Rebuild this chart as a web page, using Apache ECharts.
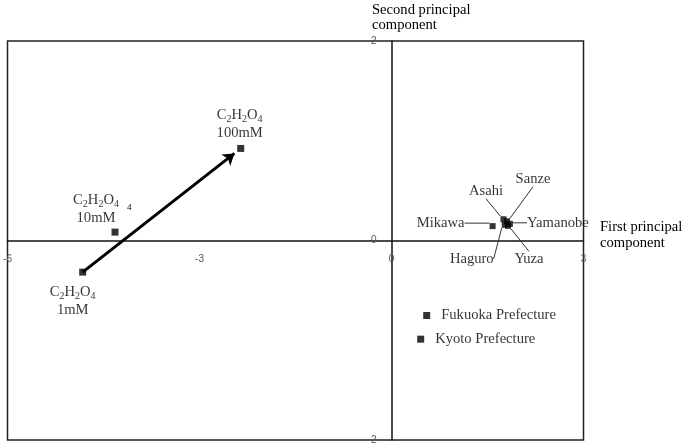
<!DOCTYPE html>
<html>
<head>
<meta charset="utf-8">
<script src="https://cdn.jsdelivr.net/npm/echarts@6/dist/echarts.min.js"></script>
<style>html,body{margin:0;padding:0;background:#fff}#c{width:685px;height:446px}</style>
</head>
<body>
<div id="c"></div>
<script>
// ---- data ----
var chemNames = ['1mM', '10mM', '100mM'];
var chemX = [-4.825, -4.32, -2.356];
var chemY = [-0.317, 0.084, 0.923];

var clusterNames = ['Mikawa', 'Asahi', 'Sanze', 'Haguro', 'Yuza', 'Yamanobe'];
var clusterX = [1.58, 1.75, 1.805, 1.77, 1.82, 1.85];
var clusterY = [0.144, 0.213, 0.193, 0.157, 0.147, 0.167];

var prefNames = ['Fukuoka Prefecture', 'Kyoto Prefecture'];
var prefX = [0.55, 0.456];
var prefY = [-0.752, -0.989];

var xTicks = [-6, -3, 0, 3];
var yTicks = [-2, 0, 2];

// ---- layout / styles ----
var G = { left: 7.5, right: 101.5, top: 41, bottom: 6 };
var W = 685, H = 446;
var gw = W - G.left - G.right, gh = H - G.top - G.bottom;
var xMin = xTicks[0], xMax = xTicks[xTicks.length - 1];
var yMin = yTicks[0], yMax = yTicks[yTicks.length - 1];
// move the axes (and their labels) from the grid edges to the zero lines
var xAxisOffset = -((0 - yMin) / (yMax - yMin)) * gh;
var yAxisOffset = -((0 - xMin) / (xMax - xMin)) * gw;

var chemLabelPos = ['bottom', 'top', 'top'];
var chemLabelOffset = [[-10, 3], [-19, 4], [-1, 2]];
var clusterLabelShift = [[-52, -3], [-17.5, -28], [26, -42], [-33, 34], [21, 33], [48, -1]];

var serif = 'Liberation Serif';
var FS = 14.6;
var chemRich = {
  n: { fontFamily: serif, fontSize: FS, color: '#000', lineHeight: 18 },
  s: { fontFamily: serif, fontSize: 10, color: '#000', lineHeight: 15, verticalAlign: 'bottom' }
};

var chemData = chemNames.map(function (n, i) {
  return {
    name: n,
    value: [chemX[i], chemY[i]],
    label: {
      show: true,
      position: chemLabelPos[i],
      offset: chemLabelOffset[i],
      align: 'center',
      formatter: '{n|C}{s|2}{n|H}{s|2}{n|O}{s|4}\n{n|' + n + '}',
      rich: chemRich
    }
  };
});

var clusterData = clusterNames.map(function (n, i) {
  return { name: n, value: [clusterX[i], clusterY[i]] };
});
var prefData = prefNames.map(function (n, i) {
  return { name: n, value: [prefX[i], prefY[i]] };
});

// arrow from the 1mM point toward the 100mM point (stops just short of the marker)
var aStart = [chemX[0], chemY[0]];
var aEnd = [chemX[0] + 0.96 * (chemX[2] - chemX[0]), chemY[0] + 0.96 * (chemY[2] - chemY[0])];

var chart = echarts.init(document.getElementById('c'));
chart.setOption({
  animation: false,
  backgroundColor: '#fff',
  grid: {
    left: G.left, right: G.right, top: G.top, bottom: G.bottom,
    outerBoundsMode: 'none', containLabel: false,
    show: true, borderColor: '#222', borderWidth: 1.5, backgroundColor: 'transparent'
  },
  xAxis: {
    type: 'value', min: xMin, max: xMax, interval: 3,
    position: 'bottom', offset: xAxisOffset,
    axisLine: { onZero: false, lineStyle: { color: '#111', width: 1.5 } },
    axisTick: { show: false },
    splitLine: { show: false },
    axisLabel: { fontFamily: 'Liberation Sans', fontSize: 10, color: '#555', margin: 14 }
  },
  yAxis: {
    type: 'value', min: yMin, max: yMax, interval: 2,
    position: 'left', offset: yAxisOffset,
    axisLine: { onZero: false, lineStyle: { color: '#111', width: 1.5 } },
    axisTick: { show: false },
    splitLine: { show: false },
    axisLabel: { fontFamily: 'Liberation Sans', fontSize: 10, color: '#555', margin: 15 }
  },
  graphic: [
    { type: 'text', left: 372, top: 3, style: { text: 'Second principal\ncomponent', fontFamily: serif, fontSize: FS, lineHeight: 15, fill: '#000' } },
    { type: 'text', left: 600, top: 219, style: { text: 'First principal\ncomponent', fontFamily: serif, fontSize: FS, lineHeight: 16, fill: '#000' } },
    { type: 'text', left: 127, top: 203, style: { text: '4', fontFamily: serif, fontSize: 9, fill: '#000' } }
  ],
  series: [
    {
      type: 'lines', coordinateSystem: 'cartesian2d', z: 3,
      symbol: ['none', 'arrow'], symbolSize: [0, 11],
      lineStyle: { color: '#000', width: 3, opacity: 1 },
      data: [{ coords: [aStart, aEnd] }]
    },
    {
      type: 'scatter', name: 'chem', symbol: 'rect', symbolSize: 7, z: 4,
      itemStyle: { color: '#000' },
      data: chemData
    },
    {
      type: 'scatter', name: 'cluster', symbol: 'rect', symbolSize: 6, z: 4,
      itemStyle: { color: '#000' },
      label: {
        show: true, position: 'inside', formatter: '{b}',
        fontFamily: serif, fontSize: FS, color: '#000'
      },
      labelLine: { show: true, lineStyle: { color: '#333', width: 1 } },
      labelLayout: function (p) {
        var s = clusterLabelShift[p.dataIndex];
        return { dx: s[0], dy: s[1] };
      },
      data: clusterData
    },
    {
      type: 'scatter', name: 'pref', symbol: 'rect', symbolSize: 7, z: 4,
      itemStyle: { color: '#000' },
      label: {
        show: true, position: 'right', distance: 11, formatter: '{b}',
        fontFamily: serif, fontSize: FS, color: '#000'
      },
      data: prefData
    }
  ]
});
</script>
</body>
</html>
